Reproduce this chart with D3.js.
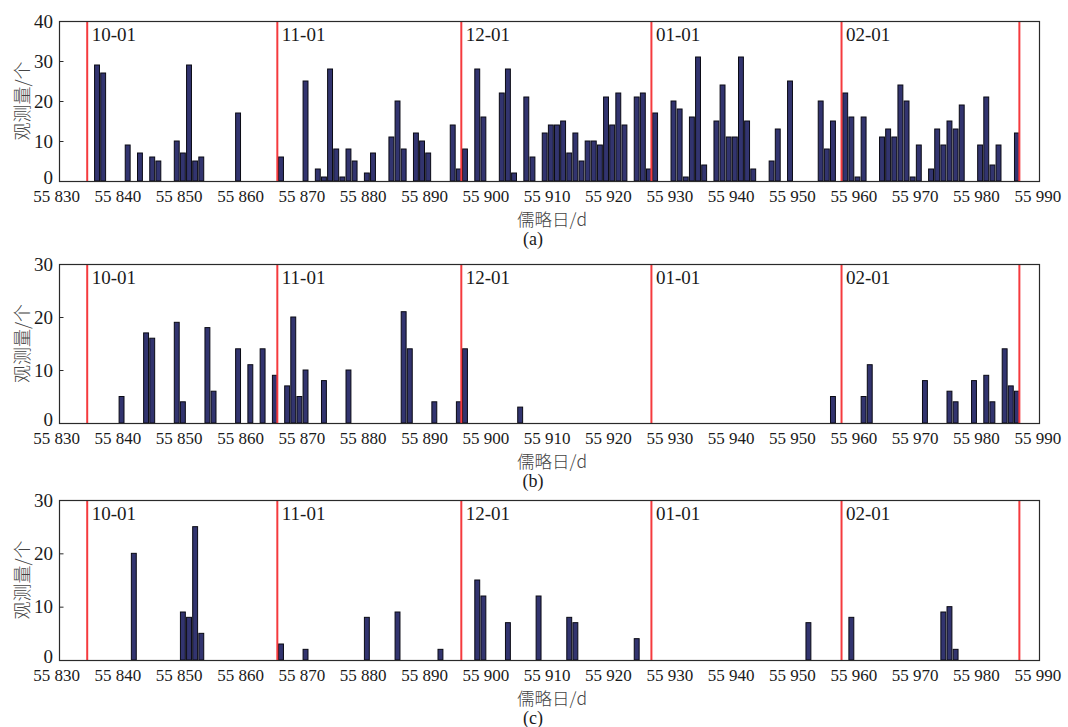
<!DOCTYPE html>
<html>
<head>
<meta charset="utf-8">
<script src="https://cdn.jsdelivr.net/npm/d3@7"></script>
<style>
  body { margin: 0; background: #fff; }
  svg { display: block; }
</style>
</head>
<body>
<div id="chart"></div>
<script>
// 每日观测量 (儒略日 -> 个数)
const daysA = [55837,55838,55842,55844,55846,55847,55850,55851,55852,55853,55854,55860,
  55867,55871,55873,55874,55875,55876,55877,55878,55879,55881,55882,55885,55886,55887,55889,55890,55891,
  55895,55896,55897,55899,55900,55903,55904,55905,55907,55908,55910,55911,55912,55913,55914,55915,55916,
  55917,55918,55919,55920,55921,55922,55923,55925,55926,55927,55928,55931,55932,55933,55934,55935,55936,
  55938,55939,55940,55941,55942,55943,55944,55947,55948,55950,55955,55956,55957,55959,55960,55961,55962,
  55965,55966,55967,55968,55969,55970,55971,55973,55974,55975,55976,55977,55978,55981,55982,55983,55984,55987];
const countsA = [29,27,9,7,6,5,10,7,29,5,6,17,
  6,25,3,1,28,8,1,8,5,2,7,11,20,8,12,10,7,
  14,3,8,28,16,22,28,2,21,6,12,14,14,15,7,12,5,
  10,10,9,21,14,22,14,21,22,3,17,20,18,1,16,31,4,
  15,24,11,11,31,15,3,5,13,25,20,8,15,22,16,1,16,
  11,13,11,24,20,1,9,3,13,9,15,13,19,9,21,4,9,12];

const daysB = [55841,55845,55846,55850,55851,55855,55856,55860,55862,55864,55866,55868,55869,55870,55871,
  55874,55878,55887,55888,55892,55896,55897,55906,55957,55962,55963,55972,55976,55977,55980,55982,55983,
  55985,55986,55987];
const countsB = [5,17,16,19,4,18,6,14,11,14,9,7,20,5,10,
  8,10,21,14,4,4,14,3,5,5,11,8,6,4,8,9,4,
  14,7,6];

const daysC = [55843,55851,55852,55853,55854,55867,55871,55881,55886,55893,55899,55900,55904,55909,55914,
  55915,55925,55953,55960,55975,55976,55977];
const countsC = [20,9,8,25,5,3,2,8,9,2,15,12,7,12,8,7,4,7,8,9,10,2];

// 每月 1 日的分隔线
const monthDays = [55835, 55866, 55896, 55927, 55958, 55987];
const monthLabels = ["10-01", "11-01", "12-01", "01-01", "02-01", ""];

const xTicks = d3.range(55830, 55991, 10);

const width = 1068, height = 727;
const left = 59, right = 1039;
const BAR_W = 0.8; // 柱宽 (天)

const panels = [
  { days: daysA, counts: countsA, yMax: 40, top: 21, bottom: 181, tag: "(a)" },
  { days: daysB, counts: countsB, yMax: 30, top: 264, bottom: 423, tag: "(b)" },
  { days: daysC, counts: countsC, yMax: 30, top: 500, bottom: 660, tag: "(c)" }
];

const svg = d3.select("#chart").append("svg")
  .attr("width", width)
  .attr("height", height)
  .style("background", "#fff");

const x = d3.scaleLinear().domain([55830.4, 55990.2]).range([left, right]);

const serif = "'Liberation Serif', 'Times New Roman', serif";
const cjk = "'Noto Sans CJK SC', sans-serif";

panels.forEach(p => {
  const y = d3.scaleLinear().domain([0, p.yMax]).range([p.bottom, p.top]);
  const g = svg.append("g");

  // 柱子
  g.selectAll("rect.bar")
    .data(p.days.map((d, i) => ({ day: d, n: p.counts[i] })))
    .enter().append("rect")
    .attr("class", "bar")
    .attr("x", d => x(d.day - BAR_W))
    .attr("width", d => x(d.day) - x(d.day - BAR_W))
    .attr("y", d => y(d.n))
    .attr("height", d => y(0) - y(d.n))
    .attr("fill", "#32346f")
    .attr("stroke", "#0a0a14")
    .attr("stroke-width", 1);

  // 月份红线
  g.selectAll("line.month")
    .data(monthDays)
    .enter().append("line")
    .attr("x1", d => x(d)).attr("x2", d => x(d))
    .attr("y1", p.top).attr("y2", p.bottom)
    .attr("stroke", "#f53a3e")
    .attr("stroke-width", 2);

  g.selectAll("text.month")
    .data(monthDays)
    .enter().append("text")
    .attr("x", d => x(d) + 4.5)
    .attr("y", p.top + 20)
    .style("font-family", serif)
    .style("font-size", "19px")
    .style("fill", "#1a1a1a")
    .text((d, i) => monthLabels[i]);

  // 边框
  g.append("rect")
    .attr("x", left + 0.5).attr("y", p.top + 0.5)
    .attr("width", right - left).attr("height", p.bottom - p.top)
    .attr("fill", "none")
    .attr("stroke", "#2a2a2a")
    .attr("stroke-width", 1.2);

  // y 轴 (刻度朝内)
  const yAxis = d3.axisRight(y).tickValues(d3.range(0, p.yMax + 1, 10)).tickSize(4).tickFormat("");
  g.append("g")
    .attr("transform", `translate(${left + 0.5},0)`)
    .call(yAxis)
    .call(a => a.select(".domain").remove())
    .call(a => a.selectAll("line").attr("stroke", "#2a2a2a"));

  g.selectAll("text.ytick")
    .data(d3.range(0, p.yMax + 1, 10))
    .enter().append("text")
    .attr("x", 53)
    .attr("y", d => y(d) + (d === 0 ? 2.5 : 6.5))
    .attr("text-anchor", "end")
    .style("font-family", serif)
    .style("font-size", "19px")
    .style("fill", "#1a1a1a")
    .text(d => d);

  // x 轴刻度标签
  g.selectAll("text.xtick")
    .data(xTicks)
    .enter().append("text")
    .attr("x", d => x(d))
    .attr("y", p.bottom + 21)
    .attr("text-anchor", "middle")
    .style("font-family", serif)
    .style("font-size", "17px")
    .style("fill", "#1a1a1a")
    .text(d => "55 " + (d - 55000));

  // 坐标轴标题
  g.append("text")
    .attr("x", (left + right) / 2 + 3)
    .attr("y", p.bottom + 44.5)
    .attr("text-anchor", "middle")
    .style("font-family", cjk)
    .style("font-size", "17.5px")
    .style("font-weight", 300)
    .style("fill", "#444")
    .text("儒略日/d");

  g.append("text")
    .attr("transform", `translate(29,${(p.top + p.bottom) / 2}) rotate(-90)`)
    .attr("text-anchor", "middle")
    .style("font-family", cjk)
    .style("font-size", "18px")
    .style("font-weight", 300)
    .style("fill", "#444")
    .text("观测量/个");

  g.append("text")
    .attr("x", 533)
    .attr("y", p.bottom + 63.5)
    .attr("text-anchor", "middle")
    .style("font-family", serif)
    .style("font-size", "18px")
    .style("fill", "#1a1a1a")
    .text(p.tag);
});
</script>
</body>
</html>
